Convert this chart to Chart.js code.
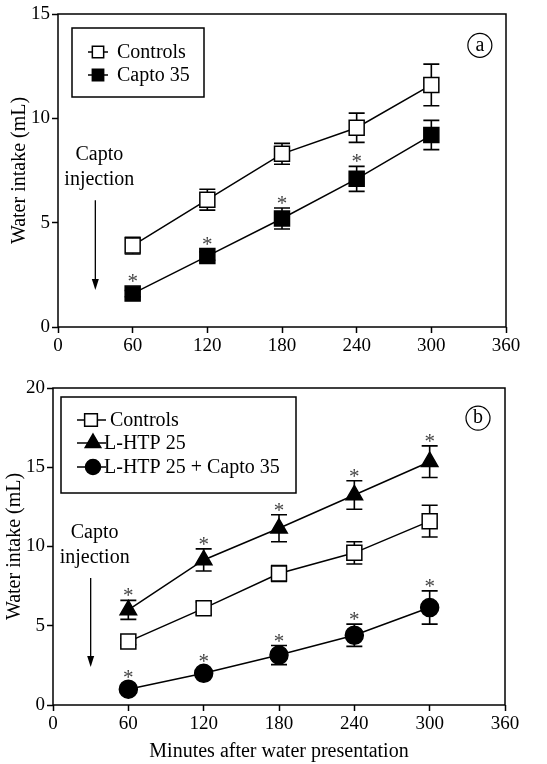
<!DOCTYPE html>
<html><head><meta charset="utf-8">
<script src="https://cdn.jsdelivr.net/npm/chart.js@4.4.0/dist/chart.umd.min.js"></script>
<style>
html,body{margin:0;padding:0;background:#fff;}
#wrap{position:relative;width:547px;height:764px;overflow:hidden;}
canvas{position:absolute;left:0;}
</style></head><body>
<div id="wrap">
<canvas id="c1" width="547" height="360" style="top:0;width:547px;height:360px"></canvas>
<canvas id="c2" width="547" height="404" style="top:360px;width:547px;height:404px"></canvas>
</div>
<script>
// ---------- data ----------
const minutes = [60, 120, 180, 240, 300];
const xTicks = [0, 60, 120, 180, 240, 300, 360];
const yTicksA = [0, 5, 10, 15];
const yTicksB = [0, 5, 10, 15, 20];

// panel a
const aControls = [3.9, 6.1, 8.3, 9.55, 11.6];
const aControlsErr = [0.4, 0.5, 0.5, 0.7, 1.0];
const aCapto = [1.6, 3.4, 5.2, 7.1, 9.2];
const aCaptoErr = [0.15, 0.2, 0.5, 0.6, 0.7];
const aCaptoStar = [true, true, true, true, false];

// panel b
const bControls = [4.0, 6.1, 8.3, 9.6, 11.6];
const bControlsErr = [0.2, 0.4, 0.5, 0.7, 1.0];
const bLhtp = [6.0, 9.15, 11.15, 13.25, 15.35];
const bLhtpErr = [0.6, 0.7, 0.85, 0.9, 1.0];
const bLhtpStar = [true, true, true, true, true];
const bCombo = [1.0, 2.0, 3.15, 4.4, 6.15];
const bComboErr = [0.2, 0.2, 0.6, 0.7, 1.05];
const bComboStar = [true, true, true, true, true];

const labelsA = ['Controls', 'Capto 35'];
const labelsB = ['Controls', 'L-HTP 25', 'L-HTP 25 + Capto 35'];
const panelLetters = ['a', 'b'];
const captoText = ['Capto', 'injection'];
const xTitle = 'Minutes after water presentation';
const yTitle = 'Water intake (mL)';

// ---------- helpers ----------
const FONT = "'Liberation Serif', 'Times New Roman', serif";
Chart.defaults.font.family = FONT;
Chart.defaults.color = '#000';

function pts(vals) { return minutes.map((m, i) => ({x: m, y: vals[i]})); }

function drawMarker(ctx, style, x, y, r, fill) {
  ctx.save();
  ctx.lineWidth = 1.5;
  ctx.strokeStyle = '#000';
  ctx.fillStyle = fill;
  ctx.beginPath();
  if (style === 'rect') {
    const s = Math.SQRT1_2 * r;
    ctx.rect(x - s, y - s, 2 * s, 2 * s);
  } else if (style === 'triangle') {
    for (let k = 0; k < 3; k++) {
      const a = k * 2 * Math.PI / 3;
      const px = x + Math.sin(a) * r, py = y - Math.cos(a) * r;
      if (k === 0) ctx.moveTo(px, py); else ctx.lineTo(px, py);
    }
    ctx.closePath();
  } else {
    ctx.arc(x, y, r, 0, Math.PI * 2);
  }
  ctx.fill();
  ctx.stroke();
  ctx.restore();
}

const errorBarPlugin = {
  id: 'errorBars',
  beforeDatasetsDraw(chart) {
    const ctx = chart.ctx, ys = chart.scales.y;
    chart.data.datasets.forEach((ds, di) => {
      if (!ds.errors) return;
      const meta = chart.getDatasetMeta(di);
      ctx.save();
      ctx.strokeStyle = '#000';
      ctx.lineWidth = 1.6;
      meta.data.forEach((pt, i) => {
        const v = ds.data[i].y, e = ds.errors[i];
        const yt = ys.getPixelForValue(v + e), yb = ys.getPixelForValue(v - e);
        ctx.beginPath();
        ctx.moveTo(pt.x, yt); ctx.lineTo(pt.x, yb);
        ctx.moveTo(pt.x - 8, yt); ctx.lineTo(pt.x + 8, yt);
        ctx.moveTo(pt.x - 8, yb); ctx.lineTo(pt.x + 8, yb);
        ctx.stroke();
      });
      ctx.restore();
    });
  },
  afterDatasetsDraw(chart) {
    const ctx = chart.ctx, ys = chart.scales.y;
    chart.data.datasets.forEach((ds, di) => {
      if (!ds.stars) return;
      const meta = chart.getDatasetMeta(di);
      ctx.save();
      ctx.fillStyle = '#444';
      ctx.font = '21px ' + FONT;
      ctx.textAlign = 'center';
      ctx.textBaseline = 'alphabetic';
      meta.data.forEach((pt, i) => {
        if (!ds.stars[i]) return;
        const v = ds.data[i].y, e = ds.errors[i];
        const ref = Math.min(ys.getPixelForValue(v + e), pt.y - 7.5);
        ctx.fillText('*', pt.x, ref + 2);
      });
      ctx.restore();
    });
  }
};

const decorPlugin = {
  id: 'decor',
  afterDraw(chart, args, opts) {
    const ctx = chart.ctx, ca = chart.chartArea;
    const xs = chart.scales.x, ys = chart.scales.y;
    // frame
    ctx.save();
    ctx.strokeStyle = '#000';
    ctx.lineWidth = 1.5;
    ctx.strokeRect(ca.left, ca.top, ca.right - ca.left, ca.bottom - ca.top);
    // legend box
    const lg = opts.legend;
    ctx.lineWidth = 1.5;
    ctx.strokeRect(lg.box[0], lg.box[1], lg.box[2] - lg.box[0], lg.box[3] - lg.box[1]);
    ctx.font = '20px ' + FONT;
    ctx.fillStyle = '#000';
    ctx.textBaseline = 'middle';
    ctx.textAlign = 'left';
    chart.data.datasets.forEach((ds, i) => {
      const it = lg.items[i];
      const y = lg.rows[i];
      ctx.beginPath();
      ctx.moveTo(it.line[0], y); ctx.lineTo(it.line[1], y);
      ctx.stroke();
      drawMarker(ctx, ds.pointStyle, it.mx, y, it.r, ds.pointBackgroundColor);
      ctx.fillStyle = '#000';
      ctx.fillText(ds.label, it.tx, y + 1);
    });
    // panel letter in circle
    const pl = opts.letter;
    const lx = xs.getPixelForValue(pl.x), ly = ys.getPixelForValue(pl.y);
    ctx.beginPath();
    ctx.lineWidth = 1.2;
    ctx.arc(lx, ly, 12, 0, Math.PI * 2);
    ctx.stroke();
    ctx.textAlign = 'center';
    ctx.fillText(pl.text, lx, ly);
    // capto injection annotation
    const an = opts.capto;
    const ax = xs.getPixelForValue(an.x);
    ctx.font = '20px ' + FONT;
    ctx.fillText(captoText[0], ax + 4, ys.getPixelForValue(an.y1));
    ctx.fillText(captoText[1], ax + 4, ys.getPixelForValue(an.y2));
    const a0 = ys.getPixelForValue(an.from), a1 = ys.getPixelForValue(an.to);
    ctx.lineWidth = 1.3;
    ctx.beginPath();
    ctx.moveTo(ax, a0); ctx.lineTo(ax, a1 - 8);
    ctx.stroke();
    ctx.beginPath();
    ctx.moveTo(ax, a1); ctx.lineTo(ax - 3.5, a1 - 11); ctx.lineTo(ax + 3.5, a1 - 11);
    ctx.closePath();
    ctx.fill();
    ctx.restore();
  }
};

function makeScales(yMax, yTicks, yW, xH, showXTitle, yTitlePad) {
  return {
    x: {
      type: 'linear', min: 0, max: 360,
      afterBuildTicks: s => { s.ticks = xTicks.map(v => ({value: v})); },
      afterFit: s => { s.height = xH; },
      grid: {drawOnChartArea: false, drawTicks: true, tickLength: 6, tickColor: '#000', tickWidth: 1.5},
      border: {display: false},
      ticks: {color: '#000', font: {size: 19}, padding: 2, maxRotation: 0, autoSkip: false},
      title: {display: showXTitle, text: xTitle, color: '#000', font: {size: 20, lineHeight: 1}, padding: {top: 0, bottom: 2}}
    },
    y: {
      type: 'linear', min: 0, max: yMax,
      afterBuildTicks: s => { s.ticks = yTicks.map(v => ({value: v})); },
      afterFit: s => { s.width = yW; },
      grid: {drawOnChartArea: false, drawTicks: true, tickLength: 6, tickColor: '#000', tickWidth: 1.5},
      border: {display: false},
      ticks: {color: '#000', font: {size: 19}, padding: 2},
      title: {display: true, text: yTitle, color: '#000', font: {size: 20, lineHeight: 1}, padding: {top: yTitlePad, bottom: 0}}
    }
  };
}

function lineDs(label, vals, errs, style, fill, radius, stars) {
  return {
    label, data: pts(vals), errors: errs, stars,
    borderColor: '#000', borderWidth: 1.5, fill: false, tension: 0,
    pointStyle: style, pointRadius: radius, pointHoverRadius: radius,
    pointBackgroundColor: fill, pointBorderColor: '#000', pointBorderWidth: 1.5
  };
}

// ---------- panel a ----------
new Chart(document.getElementById('c1'), {
  type: 'line',
  data: {
    datasets: [
      lineDs(labelsA[0], aControls, aControlsErr, 'rect', '#fff', 10.6, null),
      lineDs(labelsA[1], aCapto, aCaptoErr, 'rect', '#000', 10.6, aCaptoStar)
    ]
  },
  options: {
    responsive: false, animation: false, devicePixelRatio: 1,
    layout: {padding: {left: 0, right: 41, top: 14, bottom: 0}},
    scales: makeScales(15, yTicksA, 58, 33, false, 10),
    plugins: {
      legend: {display: false}, tooltip: {enabled: false},
      decor: {
        legend: {box: [72, 28, 204, 97], rows: [52, 75],
          items: [{line: [88, 108], mx: 98, r: 8, tx: 117}, {line: [88, 108], mx: 98, r: 8, tx: 117}]},
        letter: {x: 339, y: 13.5, text: panelLetters[0]},
        capto: {x: 30, y1: 8.24, y2: 7.04, from: 6.08, to: 1.77}
      }
    }
  },
  plugins: [errorBarPlugin, decorPlugin]
});

// ---------- panel b ----------
new Chart(document.getElementById('c2'), {
  type: 'line',
  data: {
    datasets: [
      lineDs(labelsB[0], bControls, bControlsErr, 'rect', '#fff', 10.6, null),
      lineDs(labelsB[1], bLhtp, bLhtpErr, 'triangle', '#000', 9.5, bLhtpStar),
      lineDs(labelsB[2], bCombo, bComboErr, 'circle', '#000', 9, bComboStar)
    ]
  },
  options: {
    responsive: false, animation: false, devicePixelRatio: 1,
    layout: {padding: {left: 0, right: 42, top: 28, bottom: 0}},
    scales: makeScales(20, yTicksB, 53, 59, true, 5),
    plugins: {
      legend: {display: false}, tooltip: {enabled: false},
      decor: {
        legend: {box: [61, 37, 296, 133], rows: [60, 83, 107],
          items: [{line: [77, 106], mx: 91, r: 9, tx: 110}, {line: [77, 106], mx: 93, r: 9, tx: 104}, {line: [77, 106], mx: 93, r: 7.5, tx: 104}]},
        letter: {x: 338.5, y: 18.1, text: panelLetters[1]},
        capto: {x: 30, y1: 10.87, y2: 9.29, from: 8.02, to: 2.4}
      }
    }
  },
  plugins: [errorBarPlugin, decorPlugin]
});
</script>
</body></html>
